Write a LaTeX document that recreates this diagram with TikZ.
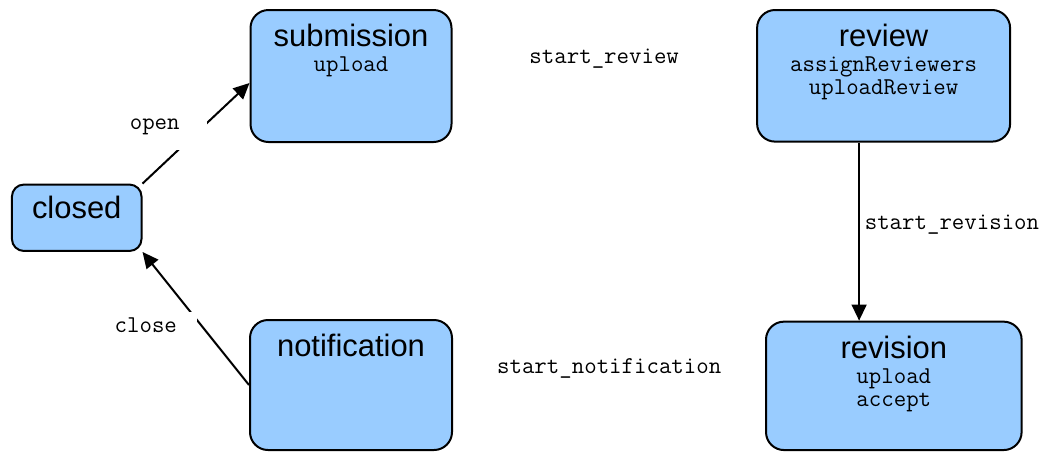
\documentclass[tikz,border=0pt]{standalone}
\usepackage{fontspec}
\setmainfont{Liberation Sans}
\setsansfont{Liberation Sans}
\usepackage{tikz}
\usetikzlibrary{arrows.meta}
\definecolor{statefill}{RGB}{153,204,255}
\newcommand{\statename}[1]{{\sffamily\fontsize{22}{22}\selectfont #1}}
\tikzset{
    state/.style={
           rectangle,
           rounded corners=0.45cm,
           draw=black, line width=0.05cm,
           fill=statefill,
           },
    methods/.style={
           anchor=north,
           inner sep=0pt,
           align=center,
           font=\fontsize{17.2}{16.1}\selectfont\ttfamily,
           },
    trans/.style={
           -{Triangle[length=0.4cm,width=0.37cm]},
           line width=0.05cm,
           },
    translabel/.style={
           font=\fontsize{17.2}{16.1}\selectfont\ttfamily,
           },
}

\begin{document}
\begin{tikzpicture}
    \useasboundingbox (0,0) rectangle (26.275,-11.275);

    % State: closed
    \node[state, rounded corners=0.3cm, 	% smaller corners than the others
    minimum width=3.24cm, minimum height=1.66cm,
    label={[methods, yshift=-0.3cm]north:{\statename{closed}}}] (closed)
    at (1.918,-5.444) {};

    % State: submission
    \node[state,
    minimum width=5.025cm, minimum height=3.3cm,
    label={[methods, yshift=-0.38cm]north:{\statename{submission}\\[1.7pt]upload}}] (submission)
    at (8.775,-1.9) {};

    % State: notification (no actions)
    \node[state,
    minimum width=5.05cm, minimum height=3.25cm,
    label={[methods, yshift=-0.37cm]north:{\statename{notification}}}] (notification)
    at (8.775,-9.625) {};

    % State: review
    \node[state,
    minimum width=6.325cm, minimum height=3.29cm,
    label={[methods, yshift=-0.37cm]north:{\statename{review}\\[1.7pt]assignReviewers\\uploadReview}}] (review)
    at (22.09,-1.895) {};

    % State: revision
    \node[state,
    minimum width=6.39cm, minimum height=3.21cm,
    label={[methods, yshift=-0.38cm]north:{\statename{revision}\\[1.7pt]upload\\accept}}] (revision)
    at (22.345,-9.646) {};

    % transitions
    \path
        (closed.north east) edge[trans] ([yshift=-0.175cm]submission.west)
        (notification.west) edge[trans] (closed.south east)
        ([xshift=-0.6125cm]review.south) edge[trans]
            node[right, pos=0.46, translabel] (lrevision) {start\_revision}
        ([xshift=-0.6125cm]review.south |- revision.north);

    % transition names (the white boxes cut the lines)
    \node[translabel, anchor=base] (lreview) at (15.105,-1.583) {start\_review};
    \node[translabel, anchor=base] (lnotification) at (15.23,-9.333) {start\_notification};
    \node[translabel, anchor=base, fill=white,
    minimum width=2.6cm, minimum height=1.2cm] (lopen) at (3.868,-3.225) {open};
    \node[translabel, anchor=base, fill=white,
    minimum width=2.55cm, minimum height=0.65cm] (lclose) at (3.645,-8.318) {close};
\end{tikzpicture}
\end{document}
